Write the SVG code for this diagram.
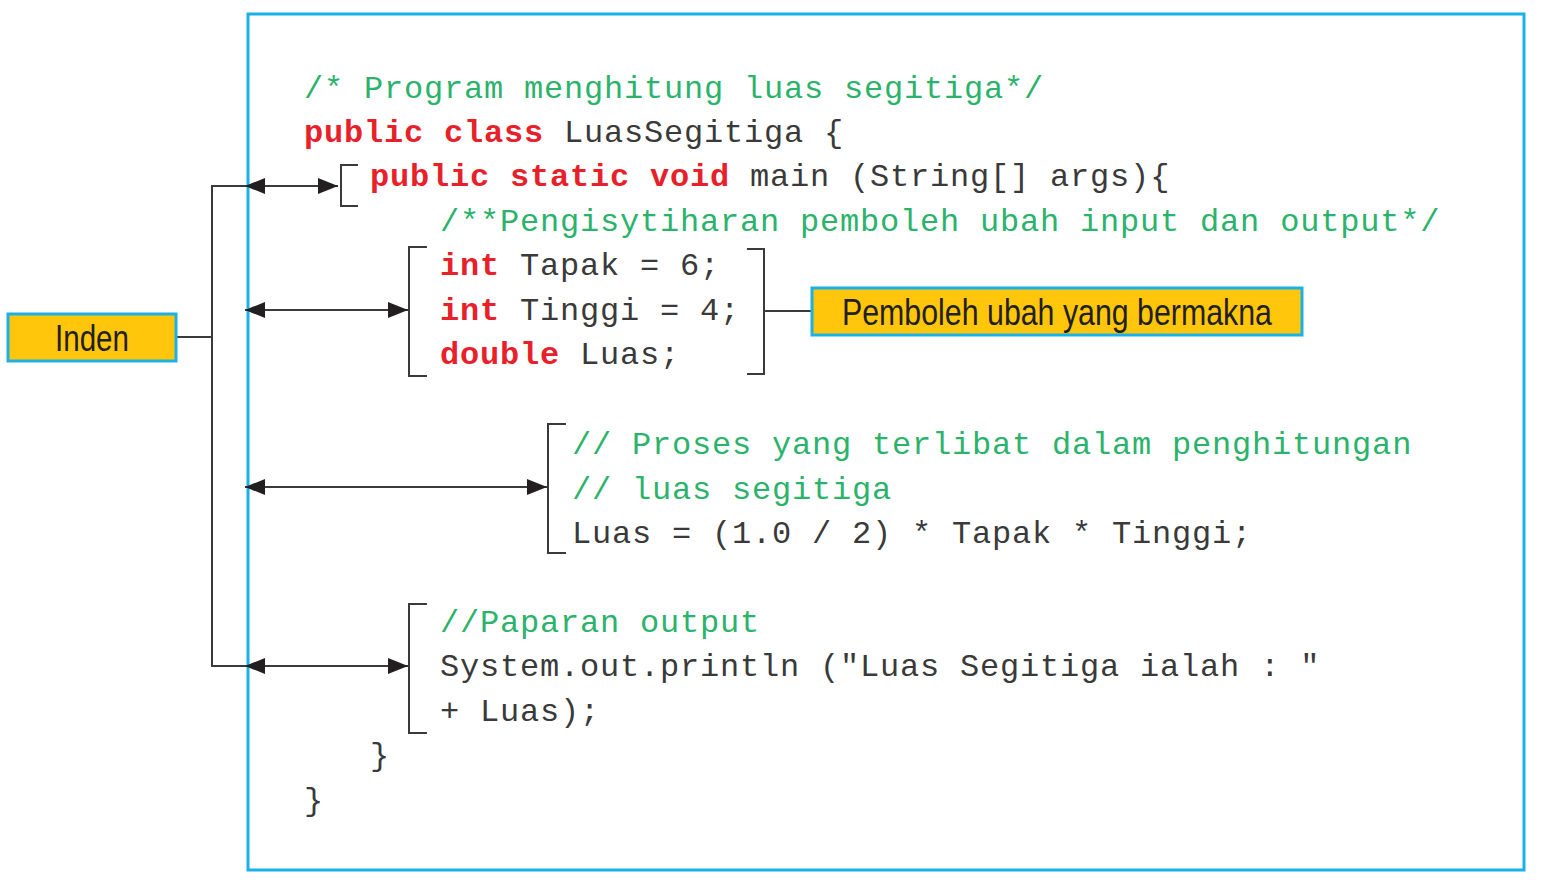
<svg xmlns="http://www.w3.org/2000/svg" width="1563" height="887" viewBox="0 0 1563 887">
<style>
.code{font-family:"Liberation Mono","Courier New",monospace;font-size:32px;letter-spacing:0.8px;fill:#3a3a3a}
.cm{fill:#2bb36b}
.kw{fill:#e8202a;font-weight:bold}
.lbl{font-family:"Liberation Sans",Arial,sans-serif;font-size:36px;fill:#231f20}
.box{fill:#ffc60b;stroke:#1ab0e8;stroke-width:3}
.ln{fill:none;stroke:#3a3a3a;stroke-width:2}
</style>
<defs>
<marker id="ah" markerUnits="userSpaceOnUse" markerWidth="20" markerHeight="16" refX="20" refY="8" orient="auto-start-reverse">
<path d="M0,0 L20,8 L0,16 z" fill="#231f20"/>
</marker>
</defs>
<rect id="frame" x="248" y="14" width="1276" height="856" fill="#fff" stroke="#1ab0e8" stroke-width="3"/>
<g id="code" class="code">
<text x="304" y="98" class="cm">/* Program menghitung luas segitiga*/</text>
<text x="304" y="142"><tspan class="kw">public class</tspan> LuasSegitiga {</text>
<text x="370" y="186"><tspan class="kw">public static void</tspan> main (String[] args){</text>
<text x="440" y="231" class="cm">/**Pengisytiharan pemboleh ubah input dan output*/</text>
<text x="440" y="275"><tspan class="kw">int</tspan> Tapak = 6;</text>
<text x="440" y="320"><tspan class="kw">int</tspan> Tinggi = 4;</text>
<text x="440" y="364"><tspan class="kw">double</tspan> Luas;</text>
<text x="572" y="454" class="cm">// Proses yang terlibat dalam penghitungan</text>
<text x="572" y="499" class="cm">// luas segitiga</text>
<text x="572" y="543">Luas = (1.0 / 2) * Tapak * Tinggi;</text>
<text x="440" y="632" class="cm">//Paparan output</text>
<text x="440" y="676">System.out.println ("Luas Segitiga ialah : "</text>
<text x="440" y="721">+ Luas);</text>
<text x="370" y="765">}</text>
<text x="304" y="810">}</text>
</g>
<g id="connectors" class="ln">
<path d="M248,186 H212 V666 H248"/>
<path d="M176,337 H212"/>
<line x1="245" y1="186" x2="338" y2="186" marker-start="url(#ah)" marker-end="url(#ah)"/>
<line x1="245" y1="310" x2="408" y2="310" marker-start="url(#ah)" marker-end="url(#ah)"/>
<line x1="245" y1="487" x2="547" y2="487" marker-start="url(#ah)" marker-end="url(#ah)"/>
<line x1="245" y1="666" x2="408" y2="666" marker-start="url(#ah)" marker-end="url(#ah)"/>
<path d="M358,165 H341 V206 H358"/>
<path d="M427,247 H409 V376 H427"/>
<path d="M566,424 H548 V553 H566"/>
<path d="M427,604 H409 V733 H427"/>
<path d="M747,249 H764 V374 H747"/>
<path d="M764,311 H812"/>
</g>
<g id="inden">
<rect class="box" x="8" y="314" width="168" height="47"/>
<text class="lbl" x="92" y="351" text-anchor="middle" textLength="74" lengthAdjust="spacingAndGlyphs">Inden</text>
</g>
<g id="pemboleh">
<rect class="box" x="812" y="288" width="490" height="47"/>
<text class="lbl" x="1057" y="325" text-anchor="middle" textLength="430" lengthAdjust="spacingAndGlyphs">Pemboleh ubah yang bermakna</text>
</g>
</svg>
